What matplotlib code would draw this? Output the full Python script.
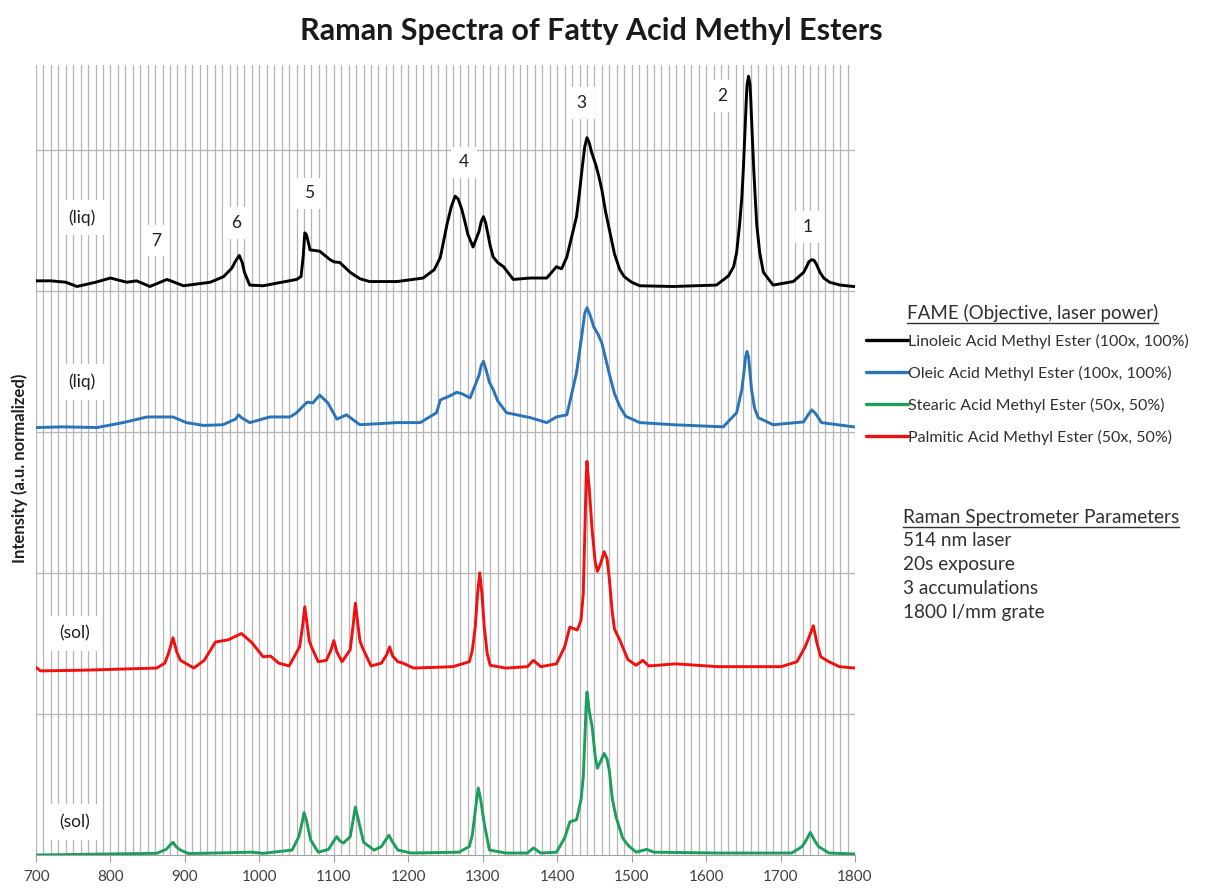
import matplotlib
matplotlib.use("Agg")
import matplotlib.pyplot as plt
from matplotlib.lines import Line2D
import numpy as np

plt.rcParams['font.family'] = ['Lato', 'DejaVu Sans']

# ---------------- data ----------------
title = "Raman Spectra of Fatty Acid Methyl Esters"
ylabel = "Intensity (a.u. normalized)"
xticks = [700, 800, 900, 1000, 1100, 1200, 1300, 1400, 1500, 1600, 1700, 1800]

linoleic_wn = [700, 720, 740, 755, 780, 800, 822, 835, 853, 876, 898, 934, 952, 963, 968, 973, 977,
               980, 987, 1005, 1030, 1050, 1056, 1059, 1061, 1063, 1065, 1068, 1081, 1095, 1100,
               1108, 1122, 1135, 1148, 1185, 1220, 1235, 1243, 1252, 1258, 1263, 1267, 1272, 1276,
               1280, 1287, 1295, 1298, 1301, 1304, 1307, 1310, 1314, 1320, 1328, 1341, 1364, 1386,
               1399, 1406, 1413, 1426, 1430, 1434, 1437, 1440, 1443, 1446, 1452, 1456, 1460, 1465,
               1471, 1477, 1484, 1490, 1500, 1511, 1556, 1614, 1630, 1637, 1641, 1645, 1648, 1650,
               1652, 1654, 1655, 1657, 1659, 1660, 1662, 1664, 1666, 1668, 1672, 1677, 1690, 1717,
               1731, 1735, 1738, 1742, 1745, 1748, 1753, 1758, 1766, 1780, 1798, 1800]
linoleic_int = [0.07, 0.07, 0.06, 0.03, 0.06, 0.09, 0.06, 0.07, 0.03, 0.08, 0.035, 0.06, 0.10, 0.16,
                0.21, 0.25, 0.20, 0.13, 0.04, 0.035, 0.06, 0.08, 0.10, 0.25, 0.41, 0.40, 0.36, 0.29,
                0.28, 0.22, 0.205, 0.20, 0.13, 0.085, 0.065, 0.065, 0.09, 0.15, 0.235, 0.47, 0.60,
                0.67, 0.65, 0.575, 0.49, 0.40, 0.31, 0.42, 0.49, 0.525, 0.48, 0.40, 0.32, 0.24, 0.20,
                0.17, 0.08, 0.09, 0.09, 0.17, 0.155, 0.24, 0.525, 0.70, 0.89, 1.02, 1.085, 1.05,
                0.985, 0.89, 0.81, 0.715, 0.56, 0.41, 0.26, 0.15, 0.10, 0.06, 0.035, 0.03, 0.04,
                0.105, 0.17, 0.27, 0.47, 0.66, 0.86, 1.10, 1.355, 1.46, 1.52, 1.46, 1.355, 1.10, 0.86,
                0.66, 0.47, 0.27, 0.13, 0.04, 0.065, 0.13, 0.17, 0.205, 0.22, 0.215, 0.19, 0.13, 0.09,
                0.06, 0.04, 0.03, 0.03]

oleic_wn = [700, 736, 782, 817, 849, 884, 902, 925, 951, 968, 972, 976, 987, 1014, 1041, 1050,
            1064, 1072, 1081, 1092, 1104, 1117, 1135, 1185, 1216, 1238, 1243, 1258, 1265, 1272,
            1283, 1295, 1298, 1301, 1305, 1309, 1314, 1320, 1332, 1364, 1386, 1399, 1413, 1426,
            1433, 1437, 1440, 1444, 1449, 1455, 1460, 1465, 1471, 1477, 1484, 1492, 1511, 1556,
            1623, 1641, 1648, 1651, 1653, 1655, 1657, 1659, 1661, 1665, 1670, 1690, 1731, 1737,
            1742, 1747, 1755, 1798, 1800]
oleic_int = [0.03, 0.035, 0.03, 0.065, 0.105, 0.105, 0.065, 0.045, 0.05, 0.09, 0.12, 0.10, 0.065,
             0.105, 0.105, 0.135, 0.21, 0.205, 0.26, 0.205, 0.09, 0.12, 0.05, 0.065, 0.065, 0.135,
             0.225, 0.26, 0.28, 0.27, 0.24, 0.40, 0.47, 0.50, 0.43, 0.35, 0.30, 0.22, 0.135, 0.10,
             0.065, 0.105, 0.12, 0.42, 0.68, 0.84, 0.88, 0.83, 0.745, 0.69, 0.63, 0.52, 0.39, 0.27,
             0.18, 0.11, 0.065, 0.05, 0.035, 0.135, 0.30, 0.43, 0.53, 0.57, 0.53, 0.42, 0.30, 0.17,
             0.10, 0.05, 0.07, 0.12, 0.155, 0.13, 0.065, 0.035, 0.035]

stearic_wn = [700, 862, 875, 880, 884, 888, 894, 905, 990, 1005, 1044, 1053, 1057, 1060, 1063,
              1069, 1079, 1093, 1100, 1104, 1108, 1113, 1122, 1126, 1129, 1132, 1140, 1154, 1164,
              1170, 1174, 1178, 1186, 1204, 1268, 1282, 1286, 1289, 1292, 1294, 1297, 1302, 1309,
              1331, 1360, 1368, 1378, 1399, 1410, 1417, 1426, 1432, 1435, 1437, 1439, 1440, 1441,
              1443, 1447, 1451, 1454, 1458, 1463, 1467, 1470, 1474, 1479, 1488, 1495, 1506, 1520,
              1530, 1616, 1715, 1729, 1735, 1740, 1745, 1751, 1765, 1800]
stearic_int = [0.0, 0.012, 0.04, 0.07, 0.09, 0.06, 0.035, 0.01, 0.02, 0.012, 0.035, 0.13, 0.22,
               0.30, 0.25, 0.105, 0.02, 0.04, 0.10, 0.13, 0.10, 0.085, 0.13, 0.25, 0.34, 0.27, 0.09,
               0.035, 0.06, 0.11, 0.14, 0.10, 0.035, 0.014, 0.02, 0.06, 0.14, 0.27, 0.40, 0.475, 0.40,
               0.225, 0.035, 0.014, 0.014, 0.05, 0.014, 0.02, 0.12, 0.235, 0.25, 0.39, 0.55, 0.80,
               1.08, 1.155, 1.12, 1.02, 0.91, 0.70, 0.615, 0.66, 0.72, 0.68, 0.60, 0.40, 0.27, 0.12,
               0.07, 0.02, 0.04, 0.02, 0.014, 0.014, 0.06, 0.11, 0.16, 0.11, 0.06, 0.014, 0.007]

palmitic_wn = [700, 706, 763, 862, 873, 878, 884, 889, 894, 912, 926, 941, 958, 976, 990, 1005,
               1015, 1026, 1040, 1054, 1058, 1061, 1064, 1067, 1070, 1079, 1090, 1096, 1100, 1104,
               1111, 1122, 1126, 1129, 1132, 1135, 1138, 1150, 1164, 1171, 1175, 1179, 1186, 1193,
               1207, 1260, 1282, 1286, 1290, 1293, 1296, 1299, 1302, 1306, 1310, 1331, 1360, 1368,
               1378, 1399, 1410, 1417, 1427, 1432, 1435, 1437, 1439, 1440, 1441, 1443, 1447, 1451,
               1454, 1458, 1463, 1467, 1470, 1474, 1477, 1484, 1495, 1506, 1515, 1523, 1559, 1616,
               1701, 1722, 1733, 1738, 1744, 1749, 1754, 1765, 1779, 1800]
palmitic_int = [0.03, 0.005, 0.01, 0.025, 0.06, 0.13, 0.24, 0.14, 0.08, 0.025, 0.08, 0.21, 0.225,
                0.27, 0.205, 0.105, 0.11, 0.06, 0.04, 0.175, 0.32, 0.46, 0.34, 0.22, 0.175, 0.07,
                0.08, 0.15, 0.22, 0.14, 0.07, 0.155, 0.33, 0.485, 0.35, 0.22, 0.175, 0.04, 0.06, 0.12,
                0.175, 0.11, 0.07, 0.06, 0.025, 0.035, 0.07, 0.15, 0.32, 0.55, 0.70, 0.55, 0.32, 0.13,
                0.045, 0.025, 0.035, 0.08, 0.035, 0.055, 0.175, 0.315, 0.295, 0.365, 0.55, 0.95, 1.38,
                1.49, 1.42, 1.30, 1.00, 0.78, 0.71, 0.76, 0.85, 0.80, 0.66, 0.42, 0.30, 0.225, 0.085,
                0.045, 0.08, 0.04, 0.055, 0.035, 0.035, 0.07, 0.175, 0.24, 0.325, 0.20, 0.105, 0.07,
                0.035, 0.025]

series_names = ["Linoleic Acid Methyl Ester (100x, 100%)",
                "Oleic Acid Methyl Ester (100x, 100%)",
                "Stearic Acid Methyl Ester (50x, 50%)",
                "Palmitic Acid Methyl Ester (50x, 50%)"]
peak_labels = ["1", "2", "3", "4", "5", "6", "7"]
peak_wn = [1736, 1621, 1433, 1275, 1067, 969, 862]
state_labels = ["(liq)", "(liq)", "(sol)", "(sol)"]
params_title = "Raman Spectrometer Parameters"
params_lines = ["514 nm laser", "20s exposure", "3 accumulations", "1800 l/mm grate"]
legend_title = "FAME (Objective, laser power)"

# ---------------- figure ----------------
W, H = 1211, 890
fig = plt.figure(figsize=(W / 100, H / 100), dpi=100)
ax = fig.add_axes([36 / W, 1 - 855 / H, (855 - 36) / W, (855 - 65) / H])

colors = {"lin": "#000000", "ole": "#2a74b8", "ste": "#1e9e5c", "pal": "#f01010"}
offsets = {"lin": 4.0, "ole": 3.0, "ste": 0.0, "pal": 1.3}

kw = dict(lw=2.1, solid_joinstyle='round', solid_capstyle='round', zorder=5)
l_lin, = ax.plot(linoleic_wn, np.array(linoleic_int) + offsets["lin"], color=colors["lin"], **kw)
l_ole, = ax.plot(oleic_wn, np.array(oleic_int) + offsets["ole"], color=colors["ole"], **kw)
l_ste, = ax.plot(stearic_wn, np.array(stearic_int) + offsets["ste"], color=colors["ste"], **kw)
l_pal, = ax.plot(palmitic_wn, np.array(palmitic_int) + offsets["pal"], color=colors["pal"], **kw)

ax.set_xlim(700, 1800)
ax.set_ylim(0, 5.6)
ax.set_xticks(xticks)
ax.set_xticks(np.arange(700, 1801, 10), minor=True)
ax.set_yticks([1, 2, 3, 4, 5])
ax.tick_params(axis='y', left=False, labelleft=False)
ax.tick_params(axis='x', which='major', length=5, color='#a0a0a0', labelsize=11,
               labelcolor='#404040', pad=6)
ax.tick_params(axis='x', which='minor', length=0)
ax.grid(True, which='both', axis='x', color='#b5b5b5', lw=0.9)
ax.grid(True, which='major', axis='y', color='#b5b5b5', lw=0.9)
ax.set_axisbelow(True)
for s in ['top', 'right', 'left']:
    ax.spines[s].set_visible(False)
ax.spines['bottom'].set_color('#a0a0a0')

box = dict(boxstyle='square,pad=0.45', fc='white', ec='none')
peak_y = [4.45, 5.38, 5.33, 4.91, 4.69, 4.48, 4.355]
for lab, xw, yy in zip(peak_labels, peak_wn, peak_y):
    ax.text(xw, yy, lab, ha='center', va='center', fontsize=12.5, color='#202020', bbox=box, zorder=4)
state_pos = [(762, 4.52), (762, 3.355), (752, 1.57), (752, 0.234)]
sbox = dict(boxstyle='square,pad=0.55', fc='white', ec='none')
for lab, (xw, yy) in zip(state_labels, state_pos):
    ax.text(xw, yy, lab, ha='center', va='center', fontsize=12.5, color='#202020', bbox=sbox, zorder=4)

fig.text(591 / W, 1 - 31 / H, title, ha='center', va='center', fontsize=22, fontweight='bold',
         color='#1a1a1a')
fig.text(20 / W, 1 - 468 / H, ylabel, ha='center', va='center', rotation=90, fontsize=12,
         fontweight='bold', color='#202020')

# legend
handles = [l_lin, l_ole, l_ste, l_pal]
leg = fig.legend(handles, series_names, loc='upper left', bbox_to_anchor=(866 / W, 1 - 334 / H),
                 frameon=False, fontsize=11.5, handlelength=2.6, handletextpad=0.05,
                 labelspacing=1.05, borderaxespad=0, borderpad=0)
for t in leg.get_texts():
    t.set_color('#303030')
for h in leg.legend_handles:
    h.set_linewidth(2.4)

renderer = fig.canvas.get_renderer()


def underlined(x, y, s, fs):
    t = fig.text(x / W, 1 - y / H, s, ha='left', va='center', fontsize=fs, color='#303030')
    bb = t.get_window_extent(renderer=renderer)
    yl = bb.y0 - 1
    fig.add_artist(Line2D([bb.x0 / W, bb.x1 / W], [yl / H, yl / H], color='#303030', lw=1.0))
    return t


underlined(907, 313, legend_title, 13.5)
underlined(903, 517, params_title, 13.7)
for i, s in enumerate(params_lines):
    fig.text(903 / W, 1 - (541 + 23.7 * i) / H, s, ha='left', va='center', fontsize=13.7,
             color='#303030')

fig.savefig("out.png", dpi=100)
